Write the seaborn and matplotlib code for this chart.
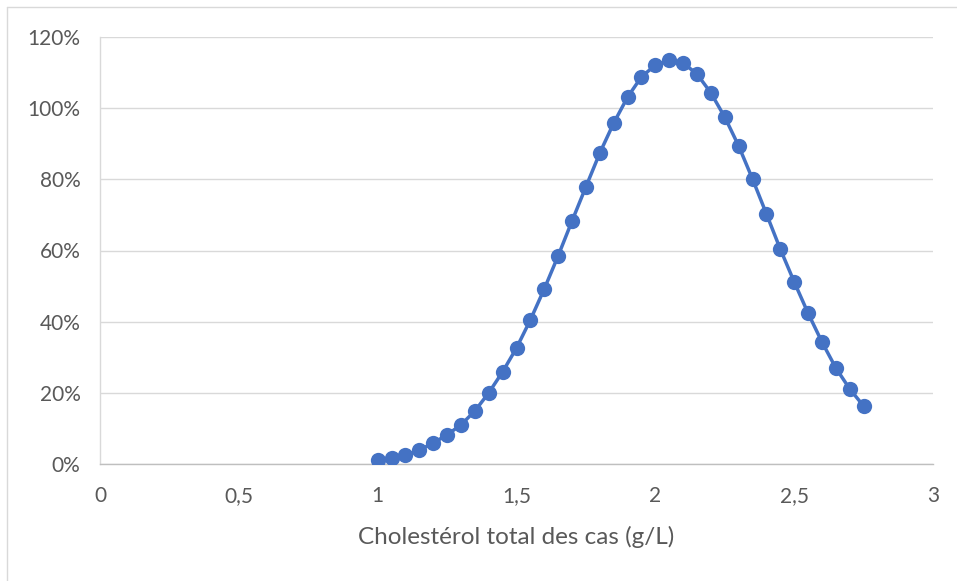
import matplotlib
matplotlib.use("Agg")
import matplotlib.pyplot as plt
from matplotlib.lines import Line2D
from matplotlib.ticker import FuncFormatter
import seaborn as sns
import pandas as pd

# valeurs
cholesterol = [1.00, 1.05, 1.10, 1.15, 1.20, 1.25, 1.30, 1.35, 1.40, 1.45,
               1.50, 1.55, 1.60, 1.65, 1.70, 1.75, 1.80, 1.85, 1.90, 1.95,
               2.00, 2.05, 2.10, 2.15, 2.20, 2.25, 2.30, 2.35, 2.40, 2.45,
               2.50, 2.55, 2.60, 2.65, 2.70, 2.75]
pourcentage = [1.1, 1.7, 2.5, 3.9, 5.9, 8.2, 11.0, 14.9, 20.0, 25.9,
               32.6, 40.5, 49.2, 58.5, 68.3, 77.9, 87.4, 95.8, 103.1, 108.8,
               112.1, 113.5, 112.7, 109.6, 104.3, 97.5, 89.4, 80.1, 70.3, 60.4,
               51.2, 42.4, 34.3, 27.0, 21.1, 16.3]
x_ticks = [0, 0.5, 1, 1.5, 2, 2.5, 3]
y_ticks = [0, 20, 40, 60, 80, 100, 120]

df = pd.DataFrame({"x": cholesterol, "y": pourcentage})

sns.set_style("white")
plt.rcParams['font.family'] = ['Lato', 'DejaVu Sans']

fig = plt.figure(figsize=(9.57, 5.81), dpi=100)
ax = fig.add_axes([100 / 957, 1 - 464 / 581, 833 / 957, 427 / 581])

sns.lineplot(data=df, x="x", y="y", ax=ax, color="#4472C4", linewidth=2.5,
             marker="o", markersize=11, markeredgewidth=0, zorder=3)

ax.set_xlim(0, 3)
ax.set_ylim(0, 120)
ax.set_xticks(x_ticks)
ax.set_yticks(y_ticks)
ax.xaxis.set_major_formatter(FuncFormatter(lambda v, p: f"{v:g}".replace(".", ",")))
ax.yaxis.set_major_formatter(FuncFormatter(lambda v, p: f"{v:.0f}%"))
ax.tick_params(axis="both", length=0, labelsize=15, labelcolor="#595959")
ax.tick_params(axis="y", pad=14)
ax.tick_params(axis="x", pad=16)

ax.grid(axis="y", color="#d9d9d9", linewidth=1)
ax.set_axisbelow(True)
for side in ["top", "right"]:
    ax.spines[side].set_visible(False)
ax.spines["left"].set_color("#d9d9d9")
ax.spines["bottom"].set_color("#bfbfbf")
ax.spines["left"].set_linewidth(1)
ax.spines["bottom"].set_linewidth(1)

ax.set_xlabel("Cholestérol total des cas (g/L)", fontsize=17.5, color="#595959", labelpad=14)
ax.set_ylabel("")

# bordure du graphique (partiellement coupée)
fig.add_artist(Line2D([7 / 957, 7 / 957], [0, 1 - 7 / 581], color="#d9d9d9", linewidth=1))
fig.add_artist(Line2D([7 / 957, 1], [1 - 7 / 581, 1 - 7 / 581], color="#d9d9d9", linewidth=1))

fig.savefig("out.png", dpi=100)
